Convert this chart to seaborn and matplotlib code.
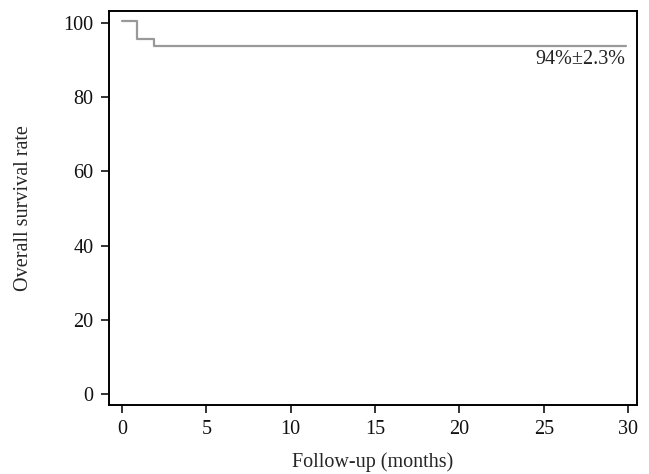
import matplotlib
matplotlib.use("Agg")
import matplotlib.pyplot as plt
import seaborn as sns
import pandas as pd

# Kaplan-Meier steps
months = [0, 0.9, 1.9, 29.9]
survival = [100.5, 95.7, 93.8, 93.8]
x_ticks = [0, 5, 10, 15, 20, 25, 30]
y_ticks = [0, 20, 40, 60, 80, 100]
final_label = "94%±2.3%"

sns.set_theme(style="ticks")
plt.rcParams['font.family'] = ['Liberation Serif', 'DejaVu Serif']

df = pd.DataFrame({'months': months, 'survival': survival})

fig, ax = plt.subplots(figsize=(6.49, 4.74), dpi=100)
sns.lineplot(data=df, x='months', y='survival', drawstyle='steps-post',
             color='#999999', linewidth=1.6, ax=ax)

ax.text(29.85, 90.2, final_label, ha='right', va='center', fontsize=14.5, color='#222222')

ax.set_xlim(-0.77, 30.53)
ax.set_ylim(-2.96, 103.2)
ax.set_xticks(x_ticks)
ax.set_yticks(y_ticks)
ax.tick_params(direction='out', length=6, width=1.2, labelsize=14.5, pad=5, colors='#111111')
for s in ax.spines.values():
    s.set_linewidth(1.4)
    s.set_color('black')

ax.set_xlabel('Follow-up (months)', fontsize=14.5, labelpad=9)
ax.set_ylabel('Overall survival rate', fontsize=14.5, labelpad=22)

fig.subplots_adjust(left=109/649, right=637/649, top=1-11/474, bottom=1-405/474)
fig.savefig('out.png', dpi=100)
